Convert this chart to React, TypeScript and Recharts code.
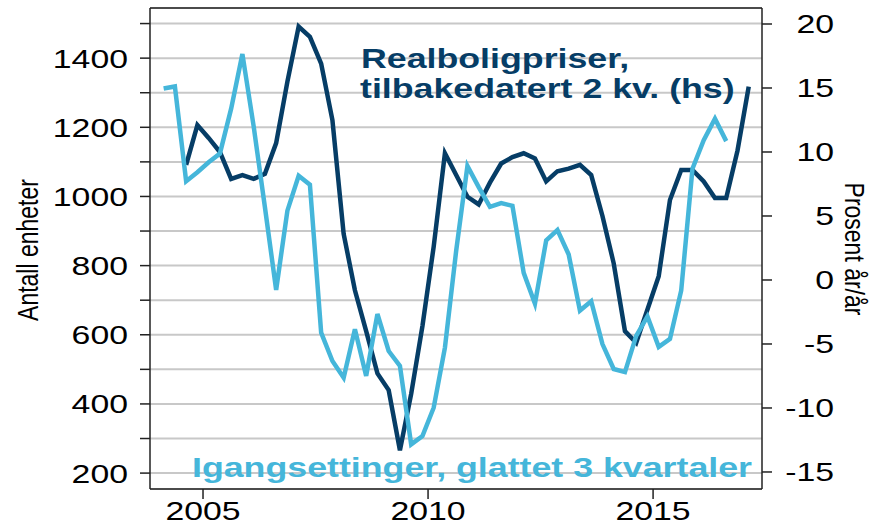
import { LineChart, Line, XAxis, YAxis, CartesianGrid, ReferenceLine } from "recharts"

// quarterly observations, first value = 2004 Q1
const startYear = 2004

// Igangsettinger, glattet 3 kvartaler (venstre akse, antall enheter)
const igangsettinger = [
  1312, 1318, 1044, 1070, 1099, 1124, 1254, 1412, 1203, 969,
  730, 959, 1060, 1034, 606, 524, 476, 616, 481, 660,
  553, 510, 283, 307, 389, 563, 843, 1088, 1027, 970,
  981, 973, 779, 690, 873, 903, 832, 670, 697, 573,
  501, 492, 597, 653, 565, 588, 728, 1080, 1163, 1225, 1160,
]

// Realboligpriser, tilbakedatert 2 kv. (høyre akse, prosent år/år)
const realboligpriser = [
  null, null, 9.0, 12.1, 11.1, 10.0, 7.9, 8.2, 7.9, 8.3,
  10.7, 15.5, 19.8, 19.0, 16.9, 12.5, 3.6, -0.8, -4.0, -7.3,
  -8.6, -13.3, -8.9, -3.6, 2.6, 9.9, 8.2, 6.5, 5.9, 7.6,
  9.1, 9.6, 9.9, 9.5, 7.7, 8.5, 8.7, 9.0, 8.2, 5.0,
  1.3, -4.0, -4.9, -2.3, 0.3, 6.25, 8.6, 8.6, 7.7, 6.4, 6.4, 10.1, 15.1,
]

const xTicks = [2005, 2010, 2015]
const leftTicks = [200, 300, 400, 500, 600, 700, 800, 900, 1000, 1100, 1200, 1300, 1400, 1500]
const rightTicks = [-15, -10, -5, 0, 5, 10, 15, 20]

const dark = "#063d66"
const light = "#45b6da"
const font = '"Liberation Sans", Arial, sans-serif'
const stretch = 1.3

const data = realboligpriser.map((r, i) => ({
  t: startYear + (i + 0.5) / 4,
  igang: igangsettinger[i] ?? null,
  real: r,
}))

function LeftTick({ x, y, payload }: any) {
  if (payload.value % 200 !== 0) return <g />
  return (
    <text
      transform={`translate(${x},${y + 9.5}) scale(${stretch},1)`}
      textAnchor="end"
      fontSize={26}
      fontFamily={font}
      fill="#000"
    >
      {payload.value}
    </text>
  )
}

function RightTick({ x, y, payload }: any) {
  return (
    <text
      transform={`translate(${x + 62},${y + 9.5}) scale(${stretch},1)`}
      textAnchor="end"
      fontSize={26}
      fontFamily={font}
      fill="#000"
    >
      {payload.value}
    </text>
  )
}

function BottomTick({ x, y, payload }: any) {
  return (
    <text
      transform={`translate(${x},${y + 21}) scale(${stretch},1)`}
      textAnchor="middle"
      fontSize={26}
      fontFamily={font}
      fill="#000"
    >
      {payload.value}
    </text>
  )
}

function Overlay() {
  const bold = { fontFamily: font, fontWeight: 700, fontSize: 27.5 }
  return (
    <svg
      width={872}
      height={526}
      style={{ position: "absolute", left: 0, top: 0, pointerEvents: "none" }}
    >
      <text transform={`translate(361,68) scale(${stretch},1)`} fill={dark} {...bold}>
        Realboligpriser,
      </text>
      <text transform={`translate(360,98) scale(${stretch},1)`} fill={dark} {...bold}>
        tilbakedatert 2 kv. (hs)
      </text>
      <text transform={`translate(192,477) scale(${stretch},1)`} fill={light} {...bold}>
        Igangsettinger, glattet 3 kvartaler
      </text>
      <text
        transform="translate(38,250) rotate(-90) scale(1,1.27)"
        textAnchor="middle"
        fontSize={23}
        fontFamily={font}
        fill="#000"
      >
        Antall enheter
      </text>
      <text
        transform="translate(845,249) rotate(90) scale(1,1.2)"
        textAnchor="middle"
        fontSize={23}
        fontFamily={font}
        fill="#000"
      >
        Prosent år/år
      </text>
    </svg>
  )
}

export default function App() {
  return (
    <div style={{ position: "relative", width: 872, height: 526, background: "#fff" }}>
      <style>{"body{margin:0}"}</style>
      <LineChart width={872} height={526} data={data} margin={{ top: 8, right: 0, bottom: 0, left: 0 }}>
        <CartesianGrid yAxisId="left" vertical={false} stroke="#c8c8c8" strokeWidth={2} />
        <XAxis
          dataKey="t"
          type="number"
          domain={[2003.822, 2017.42]}
          allowDataOverflow
          ticks={xTicks}
          tick={<BottomTick />}
          tickSize={10}
          tickMargin={0}
          height={37}
          stroke="#222"
          strokeWidth={1.5}
        />
        <YAxis
          yAxisId="left"
          orientation="left"
          domain={[154, 1545]}
          allowDataOverflow
          ticks={leftTicks}
          interval={0}
          tick={<LeftTick />}
          tickSize={10}
          tickMargin={12}
          width={150}
          stroke="#222"
          strokeWidth={1.5}
        />
        <YAxis
          yAxisId="right"
          orientation="right"
          domain={[-16.33, 21.25]}
          allowDataOverflow
          ticks={rightTicks}
          interval={0}
          tick={<RightTick />}
          tickSize={10}
          tickMargin={0}
          width={110}
          stroke="#222"
          strokeWidth={1.5}
        />
        <ReferenceLine yAxisId="left" y={1545} stroke="#222" strokeWidth={1.5} />
        <Line
          yAxisId="right"
          dataKey="real"
          stroke={dark}
          strokeWidth={4.5}
          dot={false}
          activeDot={false}
          type="linear"
          isAnimationActive={false}
        />
        <Line
          yAxisId="left"
          dataKey="igang"
          stroke={light}
          strokeWidth={4.5}
          dot={false}
          activeDot={false}
          type="linear"
          isAnimationActive={false}
        />
      </LineChart>
      <Overlay />
    </div>
  )
}
